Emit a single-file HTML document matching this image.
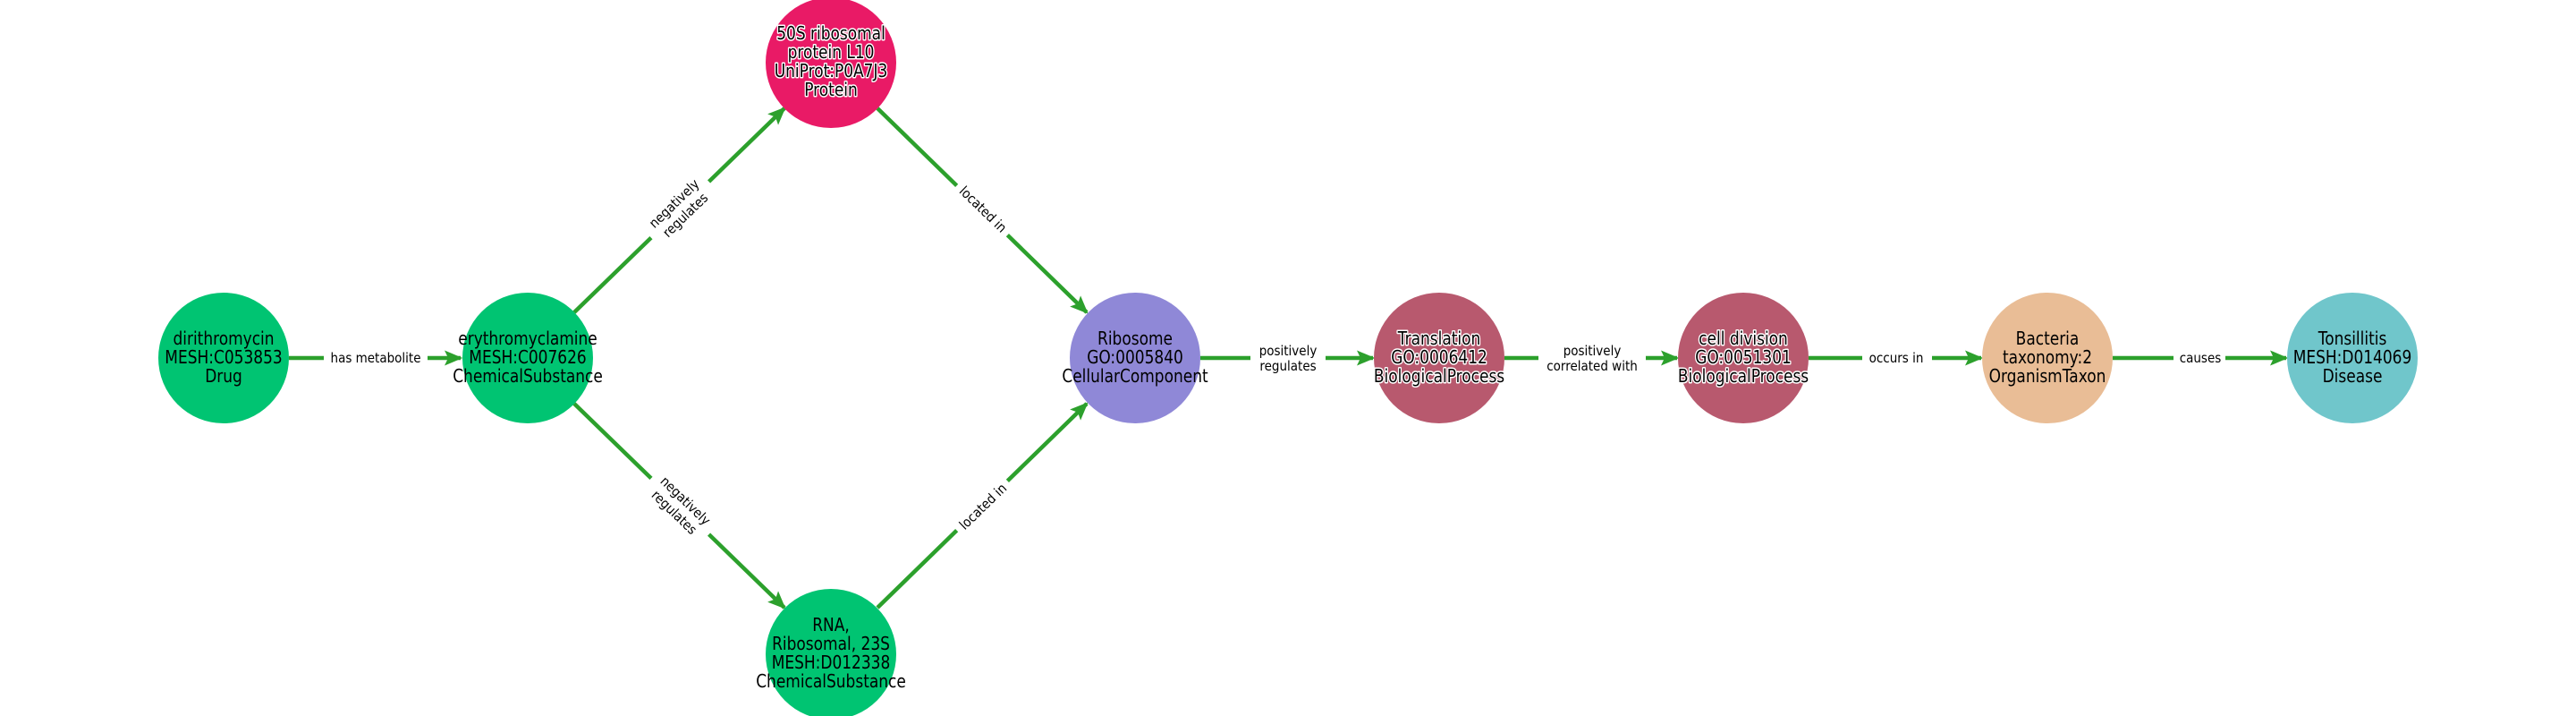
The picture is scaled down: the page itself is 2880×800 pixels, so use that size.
<!DOCTYPE html>
<html><head><meta charset="utf-8"><style>
html,body{margin:0;padding:0;background:#fff;}
svg{display:block;}
text{font-family:"DejaVu Sans","Liberation Sans",sans-serif;}
.n{font-size:20px;fill:#000;text-anchor:middle;}
.h{stroke:#fff;stroke-width:3px;paint-order:stroke;stroke-linejoin:round;}
.e{font-size:15px;fill:#000;text-anchor:middle;}
.l{stroke:#2ca02c;stroke-width:4.5;}
</style></head><body>
<svg width="2880" height="800" viewBox="0 0 2880 800" xmlns="http://www.w3.org/2000/svg">
<defs>
<marker id="a" markerWidth="5" markerHeight="5" refX="4" refY="2.5" orient="auto" markerUnits="strokeWidth">
<path d="M0,0.6 L4.5,2.5 L0,4.4 L0.9,2.5 Z" fill="#2ca02c"/>
</marker>
</defs>
<!-- edges -->
<line class="l" x1="323" y1="400" x2="515" y2="400" marker-end="url(#a)"/>
<line class="l" x1="642" y1="349" x2="877" y2="121" marker-end="url(#a)"/>
<line class="l" x1="642" y1="451" x2="877" y2="679" marker-end="url(#a)"/>
<line class="l" x1="981" y1="121" x2="1215" y2="349" marker-end="url(#a)"/>
<line class="l" x1="981" y1="679" x2="1215" y2="451" marker-end="url(#a)"/>
<line class="l" x1="1342" y1="400" x2="1535" y2="400" marker-end="url(#a)"/>
<line class="l" x1="1682" y1="400" x2="1875" y2="400" marker-end="url(#a)"/>
<line class="l" x1="2022" y1="400" x2="2215" y2="400" marker-end="url(#a)"/>
<line class="l" x1="2362" y1="400" x2="2556" y2="400" marker-end="url(#a)"/>
<!-- edge labels -->
<rect x="362" y="388" width="116" height="24" fill="#fff"/>
<g transform="translate(420,0) scale(0.9,1)"><text class="e" x="0" y="405">has metabolite</text></g>
<g transform="translate(760,234) rotate(-44) scale(0.9,1)">
<rect x="-50" y="-22" width="100" height="44" fill="#fff"/>
<text class="e" x="0" y="-4">negatively</text><text class="e" x="0" y="14">regulates</text></g>
<g transform="translate(760,566) rotate(44) scale(0.9,1)">
<rect x="-50" y="-22" width="100" height="44" fill="#fff"/>
<text class="e" x="0" y="-4">negatively</text><text class="e" x="0" y="14">regulates</text></g>
<g transform="translate(1099,234) rotate(44) scale(0.9,1)">
<rect x="-44" y="-13" width="88" height="26" fill="#fff"/>
<text class="e" x="0" y="5">located in</text></g>
<g transform="translate(1099,566) rotate(-44) scale(0.9,1)">
<rect x="-44" y="-13" width="88" height="26" fill="#fff"/>
<text class="e" x="0" y="5">located in</text></g>
<rect x="1398" y="380" width="84" height="42" fill="#fff"/>
<g transform="translate(1440,0) scale(0.9,1)"><text class="e" x="0" y="397">positively</text><text class="e" x="0" y="414">regulates</text></g>
<rect x="1720" y="380" width="120" height="42" fill="#fff"/>
<g transform="translate(1780,0) scale(0.9,1)"><text class="e" x="0" y="397">positively</text><text class="e" x="0" y="414">correlated with</text></g>
<rect x="2082" y="388" width="78" height="24" fill="#fff"/>
<g transform="translate(2120,0) scale(0.9,1)"><text class="e" x="0" y="405">occurs in</text></g>
<rect x="2430" y="388" width="58" height="24" fill="#fff"/>
<g transform="translate(2460,0) scale(0.9,1)"><text class="e" x="0" y="405">causes</text></g>
<!-- nodes -->
<circle cx="250" cy="400" r="73" fill="#00c472"/>
<g class="n" transform="translate(250,0) scale(0.85,1)"><text x="0" y="385">dirithromycin</text><text x="0" y="406">MESH:C053853</text><text x="0" y="427">Drug</text></g>
<circle cx="590" cy="400" r="73" fill="#00c472"/>
<g class="n" transform="translate(590,0) scale(0.85,1)"><text x="0" y="385">erythromyclamine</text><text x="0" y="406">MESH:C007626</text><text x="0" y="427">ChemicalSubstance</text></g>
<circle cx="929" cy="70" r="73" fill="#e91a66"/>
<g class="n h" transform="translate(929,0) scale(0.85,1)"><text x="0" y="44">50S ribosomal</text><text x="0" y="65">protein L10</text><text x="0" y="86">UniProt:P0A7J3</text><text x="0" y="107">Protein</text></g>
<circle cx="929" cy="731" r="73" fill="#00c472"/>
<g class="n" transform="translate(929,0) scale(0.85,1)"><text x="0" y="705">RNA,</text><text x="0" y="726">Ribosomal, 23S</text><text x="0" y="747">MESH:D012338</text><text x="0" y="768">ChemicalSubstance</text></g>
<circle cx="1269" cy="400" r="73" fill="#8f88d7"/>
<g class="n" transform="translate(1269,0) scale(0.85,1)"><text x="0" y="385">Ribosome</text><text x="0" y="406">GO:0005840</text><text x="0" y="427">CellularComponent</text></g>
<circle cx="1609" cy="400" r="73" fill="#b8596e"/>
<g class="n h" transform="translate(1609,0) scale(0.85,1)"><text x="0" y="385">Translation</text><text x="0" y="406">GO:0006412</text><text x="0" y="427">BiologicalProcess</text></g>
<circle cx="1949" cy="400" r="73" fill="#b8596e"/>
<g class="n h" transform="translate(1949,0) scale(0.85,1)"><text x="0" y="385">cell division</text><text x="0" y="406">GO:0051301</text><text x="0" y="427">BiologicalProcess</text></g>
<circle cx="2289" cy="400" r="73" fill="#e9bd96"/>
<g class="n" transform="translate(2289,0) scale(0.85,1)"><text x="0" y="385">Bacteria</text><text x="0" y="406">taxonomy:2</text><text x="0" y="427">OrganismTaxon</text></g>
<circle cx="2630" cy="400" r="73" fill="#70c6cb"/>
<g class="n" transform="translate(2630,0) scale(0.85,1)"><text x="0" y="385">Tonsillitis</text><text x="0" y="406">MESH:D014069</text><text x="0" y="427">Disease</text></g>
</svg>
</body></html>
